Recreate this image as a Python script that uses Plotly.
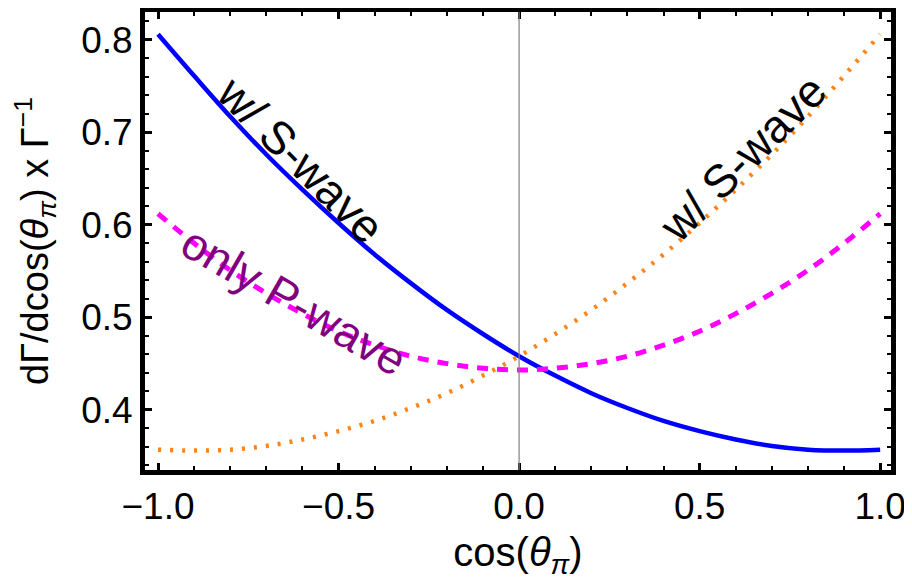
import plotly.graph_objects as go

cos_theta = [-1.0, -0.9, -0.8, -0.7, -0.6, -0.5, -0.4, -0.3, -0.2, -0.1, 0.0,
             0.1, 0.2, 0.3, 0.4, 0.5, 0.6, 0.7, 0.8, 0.9, 1.0]
with_s_wave_blue = [0.806, 0.761, 0.717, 0.676, 0.638, 0.602, 0.568, 0.537, 0.508, 0.482, 0.458,
                    0.437, 0.418, 0.402, 0.388, 0.377, 0.368, 0.361, 0.357, 0.356, 0.357]
with_s_wave_orange = [0.357, 0.356, 0.357, 0.361, 0.368, 0.377, 0.388, 0.402, 0.418, 0.437, 0.458,
                      0.482, 0.508, 0.537, 0.568, 0.602, 0.638, 0.676, 0.717, 0.761, 0.806]
only_p_wave = [0.612, 0.580, 0.551, 0.526, 0.504, 0.485, 0.470, 0.458, 0.450, 0.445, 0.443,
               0.445, 0.450, 0.458, 0.470, 0.485, 0.504, 0.526, 0.551, 0.580, 0.612]

x_ticks = [-1.0, -0.5, 0.0, 0.5, 1.0]
y_ticks = [0.4, 0.5, 0.6, 0.7, 0.8]

FONT = "Liberation Sans"

fig = go.Figure()
fig.add_trace(go.Scatter(x=cos_theta, y=with_s_wave_blue, mode="lines",
                         line=dict(color="#0000FF", width=4.5, shape="spline"), showlegend=False))
fig.add_trace(go.Scatter(x=cos_theta, y=only_p_wave, mode="lines",
                         line=dict(color="#FF00FF", width=5, dash="11px,9px", shape="spline"), showlegend=False))
fig.add_trace(go.Scatter(x=cos_theta, y=with_s_wave_orange, mode="lines",
                         line=dict(color="#FF8418", width=4.5, dash="3px,9px", shape="spline"), showlegend=False))

fig.add_shape(type="line", xref="x", yref="paper", x0=0, x1=0, y0=0, y1=1,
              line=dict(color="#808080", width=1.2), layer="above")

fig.add_annotation(x=-0.604, y=0.670, text="w/ S-wave", showarrow=False, textangle=45,
                   font=dict(family=FONT, size=46, color="black"))
fig.add_annotation(x=0.620, y=0.672, text="w/ S-wave", showarrow=False, textangle=-45,
                   font=dict(family=FONT, size=46, color="black"))
fig.add_annotation(x=-0.623, y=0.518, text="only P-wave", showarrow=False, textangle=30,
                   font=dict(family=FONT, size=46, color="#800080"))

axis_common = dict(showline=True, linecolor="black", linewidth=5, mirror="ticks",
                   ticks="inside", ticklen=7, tickwidth=3, tickcolor="black",
                   showgrid=False, zeroline=False, automargin=False,
                   tickfont=dict(family=FONT, size=37, color="black"))

fig.update_xaxes(range=[-1.036, 1.030], tickvals=x_ticks, tickformat=".1f",
                 minor=dict(ticks="inside", ticklen=4, tickwidth=2, dtick=0.1, tick0=0, tickcolor="black"),
                 title=dict(text="cos(<i>θ</i><sub><i>π</i></sub>)", font=dict(family=FONT, size=40, color="black"),
                            standoff=22),
                 **axis_common)
fig.update_yaxes(range=[0.335, 0.830], tickvals=y_ticks, tickformat=".1f",
                 minor=dict(ticks="inside", ticklen=4, tickwidth=2, dtick=0.02, tick0=0, tickcolor="black"),
                 title=dict(text="dΓ/dcos(<i>θ</i><sub><i>π</i></sub>) x Γ<sup>−1</sup>",
                            font=dict(family=FONT, size=38, color="black"), standoff=22),
                 **axis_common)

fig.update_layout(width=904, height=572, margin=dict(l=137, r=21, t=4, b=110),
                  plot_bgcolor="white", paper_bgcolor="white", font=dict(family=FONT))

fig.write_html("out.html")
